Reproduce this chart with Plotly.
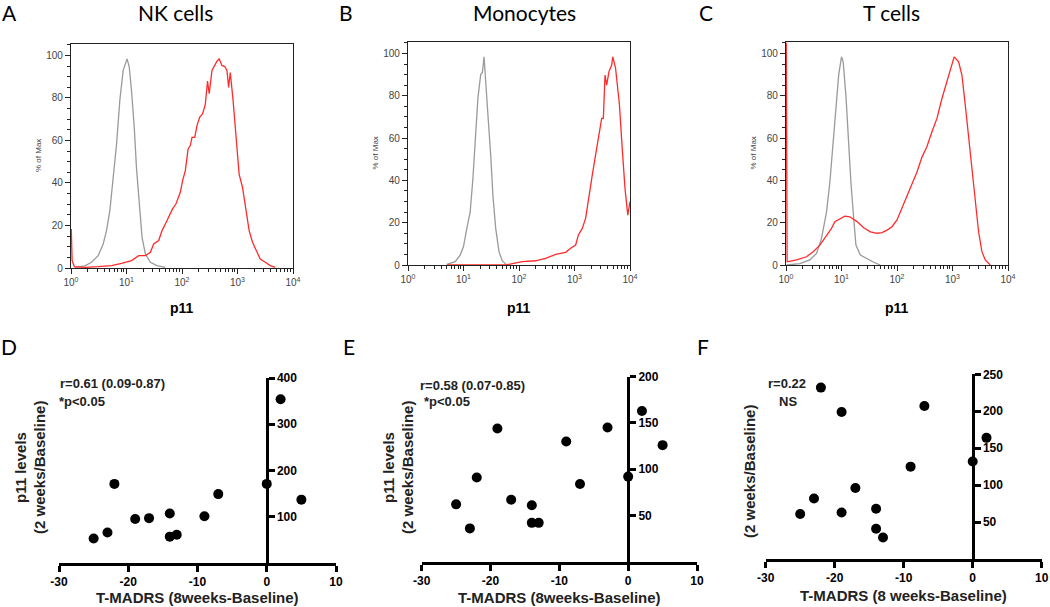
import plotly.graph_objects as go

# ---------------- Histogram data (log10 of p11 intensity, % of Max) ----------------
nk_iso_log = [0.07, 0.25, 0.37, 0.49, 0.58, 0.64, 0.70, 0.76, 0.82, 0.88, 0.94, 1.01, 1.05, 1.09, 1.14,
              1.18, 1.23, 1.28, 1.34, 1.43, 1.55, 1.70]
nk_iso_pct = [0.3, 1, 2.7, 5.8, 11.3, 17.6, 27, 41, 58, 79, 93, 98.4, 94.5, 83.5, 66,
              47, 28.6, 14.4, 6.6, 2.7, 1.1, 0.3]
nk_p11_log = [0.005, 0.01, 0.02, 0.06, 0.25, 0.49, 0.73, 0.91, 1.09, 1.22, 1.34, 1.43, 1.49, 1.58, 1.64,
              1.70, 1.77, 1.83, 1.89, 1.97, 2.01, 2.06, 2.11, 2.15, 2.18, 2.23, 2.27, 2.32, 2.37, 2.42,
              2.46, 2.49, 2.54, 2.60, 2.63, 2.67, 2.72, 2.77, 2.81, 2.84, 2.87, 2.92, 2.97, 3.03, 3.09,
              3.15, 3.21, 3.27, 3.33, 3.41, 3.50, 3.59, 3.68]
nk_p11_pct = [18.4, 10, 3.5, 0.6, 0.3, 0.6, 1.1, 2.2, 3.5, 5.8, 5.8, 7.4, 11.3, 12.9, 17.6,
              20.7, 24.6, 27.8, 30.1, 35.6, 41, 45.8, 56, 57.6, 61.5, 61.5, 67, 71, 72.5, 77,
              88, 82, 93, 96, 97.3, 98.4, 95.3, 94.8, 93, 85, 92, 79, 61.5, 44, 38,
              28.6, 17.6, 12.1, 9, 4.2, 2.7, 1.1, 0.3]

mono_iso_log = [0.70, 0.85, 0.94, 1.00, 1.06, 1.12, 1.17, 1.22, 1.26, 1.31, 1.34, 1.37, 1.40, 1.44,
                1.49, 1.53, 1.58, 1.64, 1.70, 1.77]
mono_iso_pct = [0.3, 1.6, 4.7, 8.7, 17.3, 25, 41, 60, 79, 90, 91, 98.4, 88, 71,
                52, 33, 17.3, 6.3, 1.9, 0.3]
mono_p11_log = [0.70, 1.76, 1.88, 2.06, 2.30, 2.48, 2.66, 2.84, 2.93, 3.02, 3.07, 3.14, 3.20, 3.26,
                3.32, 3.38, 3.44, 3.49, 3.52, 3.55, 3.58, 3.62, 3.67, 3.69, 3.74, 3.79, 3.81, 3.86,
                3.91, 3.96, 4.00]
mono_p11_pct = [0, 0, 0.6, 1.6, 2, 3.1, 5, 6, 7.9, 9.4, 14.2, 17.3, 22, 33,
                42.5, 52, 61.4, 69.3, 69.3, 89.8, 85, 91.3, 94.5, 98.4, 93, 78.7, 75.6, 55,
                36.2, 23.6, 30]

t_iso_log = [0.01, 0.25, 0.43, 0.55, 0.64, 0.73, 0.79, 0.85, 0.90, 0.95, 1.00, 1.03, 1.08, 1.12,
             1.17, 1.22, 1.26, 1.34, 1.46, 1.58, 1.70]
t_iso_pct = [0, 0.6, 2.4, 5.5, 12.6, 25, 39, 57, 74, 90, 98.4, 96, 80, 60,
             39, 22, 9.4, 4.7, 2.8, 1.3, 0]
t_p11_log = [0.005, 0.02, 0.04, 0.19, 0.37, 0.49, 0.61, 0.73, 0.82, 0.88, 0.97, 1.06, 1.15, 1.28,
             1.40, 1.52, 1.64, 1.73, 1.82, 1.91, 2.00, 2.09, 2.18, 2.27, 2.36, 2.45, 2.54, 2.63,
             2.72, 2.81, 2.90, 2.97, 3.03, 3.11, 3.17, 3.23, 3.29, 3.35, 3.41, 3.47, 3.53, 3.59, 3.68]
t_p11_pct = [105, 1.6, 1.6, 2.4, 3.9, 6.3, 9.4, 14.2, 17.3, 20.5, 22, 23.1, 22.8, 20.5,
             17.6, 15.7, 15, 15.3, 16.5, 18.1, 21.3, 26.8, 32.3, 37.8, 44, 51, 56, 63,
             69.3, 78.7, 86.6, 93, 98.4, 96, 89.8, 75.6, 60, 44, 28.3, 15.7, 6.3, 2.4, 0]

hist_titles = ["NK cells", "Monocytes", "T cells"]
hist_letters = ["A", "B", "C"]

# ---------------- Scatter data (T-MADRS change vs p11 ratio) ----------------
nk_madrs = [-25, -23, -22, -19, -17, -14, -14, -13, -9, -7, 0, 2, 5]
nk_ratio = [53, 66, 171, 95, 97, 107, 57, 61, 101, 149, 171, 354, 137]
mono_madrs = [-25, -23, -22, -19, -17, -14, -14, -13, -9, -7, -3, 0, 2, 5]
mono_ratio = [62, 36, 91, 144, 67, 61, 42, 42, 130, 84, 145, 92, 163, 126]
t_madrs = [-25, -23, -22, -19, -19, -17, -14, -14, -13, -9, -7, 0, 2]
t_ratio = [61, 82, 232, 199, 63, 96, 68, 41, 29, 125, 207, 132, 164]

scatter_letters = ["D", "E", "F"]
scatter_stats = [["r=0.61 (0.09-0.87)", "*p<0.05"], ["r=0.58 (0.07-0.85)", "*p<0.05"], ["r=0.22", "NS"]]
scatter_xtitles = ["T-MADRS (8weeks-Baseline)", "T-MADRS (8weeks-Baseline)", "T-MADRS (8 weeks-Baseline)"]
scatter_yticks = [[100, 200, 300, 400], [50, 100, 150, 200], [50, 100, 150, 200, 250]]
scatter_yrange = [400, 200, 250]
x_ticks = [-30, -20, -10, 0, 10]

W, H = 1050, 607
def px(x):
    return x / W
def py(y):
    return 1 - y / H

fig = go.Figure()
annotations = []
layout = dict(width=W, height=H, margin=dict(l=0, r=0, t=0, b=0, autoexpand=False),
              paper_bgcolor="white", plot_bgcolor="white", showlegend=False)

ARIAL = "Liberation Sans, Arial, sans-serif"
CAL = "Lato, Open Sans, sans-serif"

def note(text, x, y, font, xanchor="center", angle=0):
    return dict(text=text, x=px(x), y=py(y), xref="paper", yref="paper", showarrow=False,
                xanchor=xanchor, yanchor="middle", textangle=angle, font=font)

# Histogram panels
hist_x = [(71, 293), (408, 630), (786, 1008)]
hist_y = [(44, 268), (42, 265), (42, 265)]
hist_series = [(nk_iso_log, nk_iso_pct, nk_p11_log, nk_p11_pct),
               (mono_iso_log, mono_iso_pct, mono_p11_log, mono_p11_pct),
               (t_iso_log, t_iso_pct, t_p11_log, t_p11_pct)]
title_cx = [175, 524, 891]
letter_cx = [9, 346, 706]
minor_vals = [k * 10 ** n for n in range(4) for k in range(2, 10)]

for i in range(3):
    n = i + 1
    xa = "x" if n == 1 else f"x{n}"
    ya = "y" if n == 1 else f"y{n}"
    iso_l, iso_p, p_l, p_p = hist_series[i]
    fig.add_trace(go.Scatter(x=[10 ** v for v in iso_l], y=iso_p, mode="lines",
                             line=dict(color="#9a9a9a", width=1.3), xaxis=xa, yaxis=ya))
    fig.add_trace(go.Scatter(x=[10 ** v for v in p_l], y=p_p, mode="lines",
                             line=dict(color="#ff2b2b", width=1.3), xaxis=xa, yaxis=ya))
    x0, x1 = hist_x[i]
    y0, y1 = hist_y[i]
    layout["xaxis" if n == 1 else f"xaxis{n}"] = dict(
        domain=[px(x0), px(x1)], anchor=ya, type="log", range=[0, 4], automargin=False,
        showline=True, mirror=True, linecolor="#222", linewidth=1.2,
        ticks="outside", ticklen=5, tickcolor="#222", tickwidth=1,
        tickvals=[1, 10, 100, 1000, 10000],
        ticktext=["10<sup>0</sup>", "10<sup>1</sup>", "10<sup>2</sup>", "10<sup>3</sup>", "10<sup>4</sup>"],
        tickfont=dict(family=ARIAL, size=10, color="#444"),
        minor=dict(tickvals=minor_vals, ticks="outside", ticklen=3, tickcolor="#222", tickwidth=1),
        showgrid=False, zeroline=False)
    layout["yaxis" if n == 1 else f"yaxis{n}"] = dict(
        domain=[py(y1), py(y0)], anchor=xa, range=[0, 105.4], automargin=False,
        showline=True, mirror=True, linecolor="#222", linewidth=1.2,
        ticks="outside", ticklen=5, tickcolor="#222", tickwidth=1,
        tickvals=[0, 20, 40, 60, 80, 100],
        tickfont=dict(family=ARIAL, size=10, color="#444"),
        minor=dict(dtick=5, ticks="outside", ticklen=3, tickcolor="#222", tickwidth=1),
        showgrid=False, zeroline=False)
    cx = (x0 + x1) / 2
    annotations += [
        note("% of Max", x0 - 33, (y0 + y1) / 2, dict(family=ARIAL, size=8, color="#444"), angle=-90),
        note("p11", cx, 308, dict(family=ARIAL, size=14, color="black", weight="bold")),
        note(hist_titles[i], title_cx[i], 13, dict(family=CAL, size=21, color="black")),
        note(hist_letters[i], letter_cx[i], 13, dict(family=CAL, size=21, color="black")),
    ]

# Scatter panels
sc_x = [(59, 336), (421.7, 697), (765.7, 1041.7)]
sc_y = [(378, 563), (376.7, 561.7), (374.3, 559)]
sc_series = [(nk_madrs, nk_ratio), (mono_madrs, mono_ratio), (t_madrs, t_ratio)]
sc_letter_cx = [9, 349, 703]
stat_pos = [[(58, 383), (57, 401)], [(418, 385), (422, 401)], [(766, 384), (777, 401)]]
ytitle_lines = [[("p11 levels", 20), ("(2 weeks/Baseline)", 39)],
                [("p11 levels", 388), ("(2 weeks/Baseline)", 407)],
                [("(2 weeks/Baseline)", 749)]]
ytitle_cy = [468, 468, 472]
xtitle_cy = [597, 597, 595]

for i in range(3):
    n = i + 4
    xa, ya = f"x{n}", f"y{n}"
    mx, my = sc_series[i]
    fig.add_trace(go.Scatter(x=mx, y=my, mode="markers", xaxis=xa, yaxis=ya,
                             marker=dict(color="black", size=10), cliponaxis=False))
    x0, x1 = sc_x[i]
    y0, y1 = sc_y[i]
    zero_frac = (0 - (-30)) / 40
    layout[f"xaxis{n}"] = dict(
        domain=[px(x0), px(x1)], anchor=ya, range=[-30, 10], automargin=False,
        showline=True, linecolor="black", linewidth=2.6,
        ticks="outside", ticklen=6, tickwidth=2.6, tickcolor="black",
        tickvals=x_ticks, ticktext=[str(v) for v in x_ticks],
        tickfont=dict(family=ARIAL, size=12, color="black", weight="bold"),
        showgrid=False, zeroline=False)
    layout[f"yaxis{n}"] = dict(
        domain=[py(y1), py(y0)], anchor="free", automargin=False,
        position=px(x0 + zero_frac * (x1 - x0)), side="right",
        range=[0, scatter_yrange[i]],
        showline=True, linecolor="black", linewidth=2.6,
        ticks="outside", ticklen=6, tickwidth=2.6, tickcolor="black",
        tickvals=scatter_yticks[i],
        tickfont=dict(family=ARIAL, size=12, color="black", weight="bold"),
        showgrid=False, zeroline=False)
    bold15 = dict(family=ARIAL, size=15, color="#222", weight="bold")
    annotations.append(note(scatter_xtitles[i], (x0 + x1) / 2, xtitle_cy[i], bold15))
    for (txt, (ax, ay)) in zip(scatter_stats[i], stat_pos[i]):
        annotations.append(note(txt, ax, ay, dict(family=ARIAL, size=13, color="#222", weight="bold"),
                                xanchor="left"))
    for txt, cxl in ytitle_lines[i]:
        annotations.append(note(txt, cxl, ytitle_cy[i], bold15, angle=-90))
    annotations.append(note(scatter_letters[i], sc_letter_cx[i], 346, dict(family=CAL, size=21, color="black")))

layout["annotations"] = annotations
fig.update_layout(**layout)
fig.write_html("out.html", config={"displayModeBar": False},
               post_script="document.body.style.margin='0px';document.body.style.overflow='hidden';")
